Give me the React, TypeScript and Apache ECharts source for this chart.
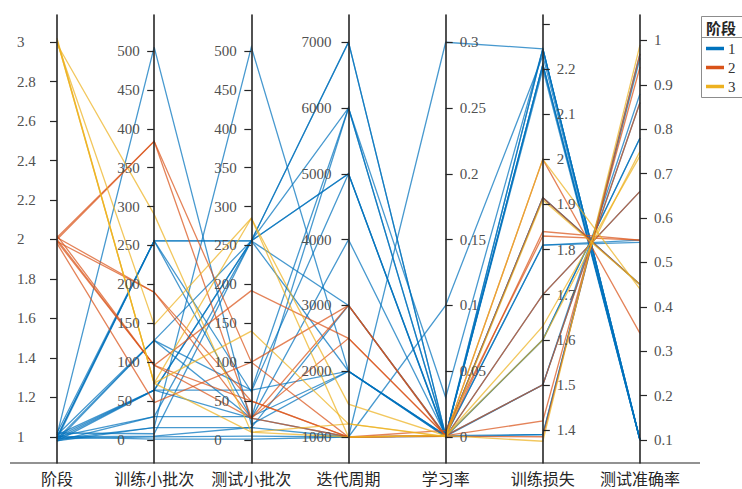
import React, { useEffect, useRef } from 'react';
import * as echarts from 'echarts';

// ---- data ----
const dimensionNames = ['阶段', '训练小批次', '测试小批次', '迭代周期', '学习率', '训练损失', '测试准确率'];
const groupNames = ['1', '2', '3'];
const groupColors = ['#0072BD', '#D95319', '#EDB120'];

// one entry per run (line)
const groupOf = [
  1, 1, 1, 1, 1, 1, 1, 1, 1, 1, 1, 1, 1, 1, 1, 1, 1, 1, 1, 1,
  2, 2, 2, 2, 2, 2, 2, 2,
  3, 3, 3, 3, 3,
];
const stageValue = [
  1.0, 0.99, 1.01, 0.98, 1.0, 0.99, 1.02, 1.0, 0.98, 1.01, 0.99, 1.0, 0.98, 1.01, 1.0, 0.99, 1.02, 0.98, 1.0, 0.99,
  2.0, 2.01, 1.99, 2.02, 1.98, 2.0, 2.01, 1.99,
  3.0, 3.02, 3.01, 2.99, 3.01,
];
const trainBatch = [
  1, 4, 505, 16, 256, 256, 256, 256, 128, 128, 128, 64, 64, 64, 30, 16, 8, 30, 5, 64,
  384, 384, 190, 96, 48, 96, 190, 96,
  148, 73, 73, 290, 73,
];
const testBatch = [
  1, 5, 20, 505, 256, 256, 28, 62, 256, 64, 28, 64, 256, 256, 30, 16, 256, 256, 16, 28,
  28, 100, 28, 192, 100, 28, 50, 50,
  285, 285, 140, 10, 10,
];
const epochs = [
  1000, 1000, 2000, 2000, 7000, 6000, 6000, 5000, 5000, 6000, 4000, 2000, 5000, 7000, 2000, 3000, 3000, 2000, 1000, 1000,
  3000, 3000, 2500, 2500, 1000, 1000, 1000, 1000,
  1000, 1500, 1200, 1000, 1200,
];
const learningRate = [
  0.3, 0.1, 0.001, 0.0001, 0.001, 0.001, 0.0005, 0.001, 0.0001, 0.03, 0.001, 0.001, 0.0001, 0.001, 0.001, 0.0005, 0.001, 0.0001, 0.001, 0.0005,
  0.001, 0.0001, 0.001, 0.001, 0.0005, 0.001, 0.005, 0.001,
  0.001, 0.001, 0.0005, 0.001, 0.0001,
];
const trainLoss = [
  2.245, 2.23, 2.21, 1.39, 2.245, 2.21, 1.6, 1.81, 2.245, 2.245, 1.5, 1.915, 1.7, 2.2, 1.39, 2.21, 1.81, 1.6, 1.915, 1.5,
  1.915, 1.7, 1.84, 1.42, 1.385, 2.0, 1.83, 1.5,
  1.375, 1.63, 1.6, 2.0, 1.91,
];
const testAccuracy = [
  0.1, 0.1, 0.1, 0.97, 0.1, 0.1, 0.78, 0.545, 0.1, 0.1, 0.88, 0.45, 0.66, 0.1, 0.96, 0.1, 0.55, 0.78, 0.45, 0.86,
  0.45, 0.66, 0.55, 0.94, 0.97, 0.34, 0.55, 0.86,
  0.99, 0.74, 0.75, 0.44, 0.45,
];

// tick values
const stageTicks = [1, 1.2, 1.4, 1.6, 1.8, 2, 2.2, 2.4, 2.6, 2.8, 3];
const batchTicks = [0, 50, 100, 150, 200, 250, 300, 350, 400, 450, 500];
const epochTicks = [1000, 2000, 3000, 4000, 5000, 6000, 7000];
const lrTicks = [0, 0.05, 0.1, 0.15, 0.2, 0.25, 0.3];
const lossTicks = [1.4, 1.5, 1.6, 1.7, 1.8, 1.9, 2, 2.1, 2.2, 2.3];
const lossLabels = [1.4, 1.5, 1.6, 1.7, 1.8, 1.9, 2, 2.1, 2.2];
const accTicks = [0.1, 0.2, 0.3, 0.4, 0.5, 0.6, 0.7, 0.8, 0.9, 1];

export default function App() {
  const ref = useRef<HTMLDivElement>(null);

  useEffect(() => {
    if (!ref.current) return;
    const chart = echarts.init(ref.current, null, { renderer: 'svg' });

    const axisRanges = [
      [0.868, 3.137],
      [-29.6, 546.3],
      [-29.6, 546.3],
      [605, 7413],
      [-0.0198, 0.3207],
      [1.3268, 2.32],
      [0.0482, 1.0572],
    ];
    const tickSets = [stageTicks, batchTicks, batchTicks, epochTicks, lrTicks, lossTicks, accTicks];
    const labelSets = [stageTicks, batchTicks, batchTicks, epochTicks, lrTicks, lossLabels, accTicks];
    // left-side axes: labels left-aligned in a column to the left of the axis
    const labelMargins = [-40, -37, -37, -47, 14, 14, 14];

    const parallelAxis = dimensionNames.map((name, i) => {
      const leftSide = i < 4;
      return {
        dim: i,
        name,
        min: axisRanges[i][0],
        max: axisRanges[i][1],
        nameLocation: 'start',
        nameGap: 7,
        nameTextStyle: {
          fontSize: 16,
          color: '#262626',
          fontFamily: '"Noto Sans CJK SC", sans-serif',
          verticalAlign: 'top',
        },
        axisLine: { show: true, lineStyle: { color: '#262626', width: 1.6 } },
        axisTick: {
          show: true,
          length: leftSide ? -7 : 7,
          customValues: tickSets[i],
          lineStyle: { color: '#262626', width: 1.2 },
        },
        axisLabel: {
          show: true,
          margin: labelMargins[i],
          align: 'left',
          customValues: labelSets[i],
          color: '#505050',
          fontSize: 15,
          fontFamily: '"Liberation Serif", serif',
          formatter: (v: number) => String(Math.round(v * 10000) / 10000),
        },
        splitLine: { show: false },
      };
    });

    const series = groupNames.map((g, gi) => {
      const rows: number[][] = [];
      for (let k = 0; k < groupOf.length; k++) {
        if (groupOf[k] === gi + 1) {
          rows.push([
            stageValue[k],
            trainBatch[k],
            testBatch[k],
            epochs[k],
            learningRate[k],
            trainLoss[k],
            testAccuracy[k],
          ]);
        }
      }
      return {
        name: g,
        type: 'parallel',
        data: rows,
        smooth: false,
        color: groupColors[gi],
        lineStyle: { color: groupColors[gi], width: 1.3, opacity: 0.72 },
        emphasis: { disabled: true },
      };
    });

    chart.setOption({
      animation: false,
      color: groupColors,
      parallel: {
        left: 57,
        right: 102,
        top: 15,
        bottom: 26,
        layout: 'horizontal',
        parallelAxisDefault: { realtime: false },
      },
      parallelAxis,
      legend: {
        orient: 'vertical',
        left: 706,
        top: 41,
        padding: 0,
        icon: 'rect',
        itemWidth: 16,
        itemHeight: 1.5,
        itemGap: 4,
        selectedMode: false,
        textStyle: { fontSize: 15, color: '#333', fontFamily: '"Liberation Serif", serif' },
        data: groupNames,
      },
      graphic: [
        {
          type: 'line',
          shape: { x1: 10, y1: 463, x2: 700, y2: 463 },
          style: { stroke: '#262626', lineWidth: 1.2 },
          silent: true,
        },
        {
          type: 'rect',
          shape: { x: 701.5, y: 16.5, width: 60, height: 81 },
          style: { fill: '#fff', stroke: '#8c8c8c', lineWidth: 1 },
          z: -1,
          silent: true,
        },
        {
          type: 'line',
          shape: { x1: 701.5, y1: 37.5, x2: 742, y2: 37.5 },
          style: { stroke: '#8c8c8c', lineWidth: 1 },
          silent: true,
        },
        {
          type: 'text',
          x: 706,
          y: 27,
          style: {
            text: '阶段',
            fontSize: 15,
            fontWeight: 'bold',
            fill: '#262626',
            fontFamily: '"Noto Sans CJK SC", sans-serif',
            verticalAlign: 'middle',
          },
          silent: true,
        },
      ],
      series,
    });

    return () => chart.dispose();
  }, []);

  return (
    <div
      ref={ref}
      style={{ position: 'fixed', left: 0, top: 0, width: 742, height: 489, background: '#fff' }}
    />
  );
}
